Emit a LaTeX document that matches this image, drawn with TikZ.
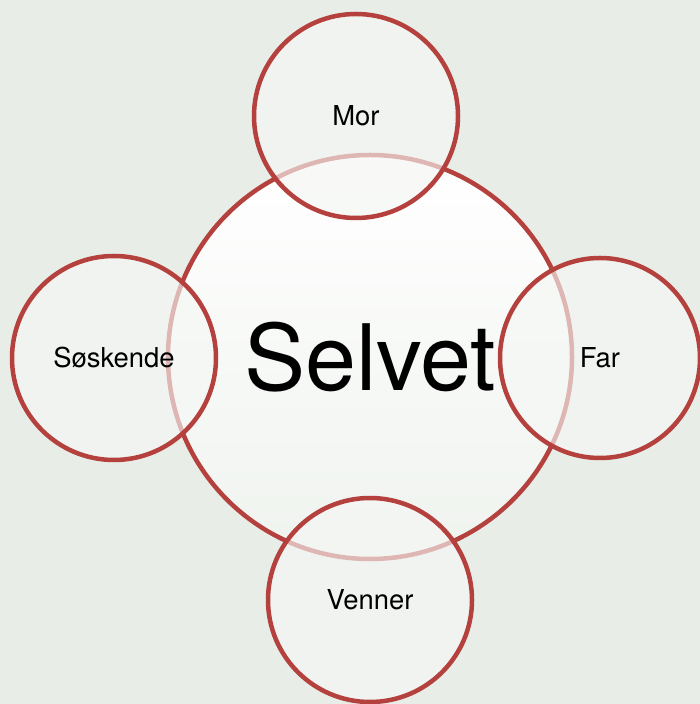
\documentclass[tikz,border=0pt]{standalone}
\usepackage{fontspec}
\setmainfont{TeX Gyre Heros}
\usetikzlibrary{positioning}

\definecolor{bgcol}{RGB}{232,238,231}
\definecolor{ringcol}{RGB}{181,65,63}
\definecolor{fillcol}{RGB}{245,247,244}
\definecolor{shadecol}{RGB}{239,243,238}

\begin{document}
\begin{tikzpicture}[
      x=1bp, y=1bp,
      core/.style={circle, draw=ringcol, line width=4.5bp, minimum size=404bp,
        top color=white, bottom color=shadecol, inner sep=0pt,
        font=\fontsize{92}{94}\selectfont},
      satellite/.style={circle, draw=ringcol, line width=4.5bp, minimum size=204bp,
        fill=fillcol, fill opacity=0.65, text opacity=1, draw opacity=1,
        inner sep=0pt, font=\fontsize{27.5}{30}\selectfont},
    ]
    % background and page size
    \fill[bgcol] (0,0) rectangle (700,704);
    \useasboundingbox (0,0) rectangle (700,704);

    % --- centre ---
    \node[core] (selvet) at (370,347) {Selvet};

    % --- the four around it ---
    \node[satellite] (mor) at (356,588) {Mor};
    \node[satellite, minimum size=200bp] (far) at (600,346) {Far};
    \node[satellite] (soskende) at (114,346) {Søskende};
    \node[satellite] (venner) at (370,104) {Venner};
  \end{tikzpicture}
\end{document}
